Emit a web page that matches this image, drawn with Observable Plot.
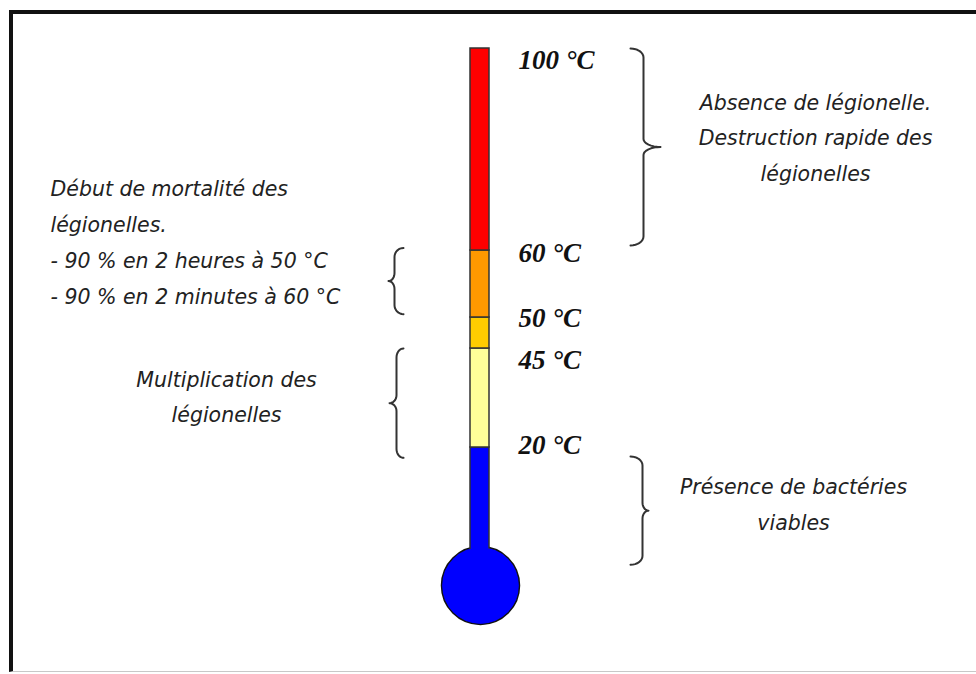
<!DOCTYPE html>
<html><head><meta charset="utf-8">
<script src="https://cdn.jsdelivr.net/npm/d3@7"></script>
<script src="https://cdn.jsdelivr.net/npm/@observablehq/plot@0.6"></script>
<style>
html,body{margin:0;padding:0;background:#fff;}
#wrap{position:relative;width:976px;height:674px;overflow:hidden;}
#wrap svg{position:absolute;left:0;top:0;}
#frame{position:absolute;left:9px;top:10px;width:990px;height:657px;border-top:4px solid #111;border-left:4px solid #111;border-bottom:1px solid #c8c8c8;pointer-events:none;}
</style></head><body>
<div id="wrap"><div id="frame"></div></div>
<script>
// ---------- DATA ----------
// thermometer segments (°C); the lowest stop 0 stands for the bulb
const segLow   = [0, 20, 45, 50, 60];
const segHigh  = [20, 45, 50, 60, 100];
const segColor = ["#0000ff", "#ffff99", "#ffcc00", "#ff9900", "#ff0000"];
// temperature labels
const tempLabels = [100, 60, 50, 45, 20];
// braces (temperature ranges they span)
const braceLow  = [61, 50.5, 18.5, 3];
const braceHigh = [100, 60.5, 45, 18.7];
// annotation texts
const notes = [
  "Absence de légionelle.\nDestruction rapide des\nlégionelles",
  "Début de mortalité des\nlégionelles.\n- 90 % en 2 heures à 50 °C\n- 90 % en 2 minutes à 60 °C",
  "Multiplication des\nlégionelles",
  "Présence de bactéries\nviables"
];

// ---------- LAYOUT ----------
const W = 976, H = 674;
// the drawing's temperature axis is not linear: piecewise warp
const scaleTemps  = [0, 20, 45, 50, 60, 100];
const scalePixels = [585, 447, 348, 317, 250, 48];
const tubeX1 = 470, tubeX2 = 489, bulbX = 480, bulbR = 39;
const labelX = 518, labelDy = [12, 3, 1, 12, -2];
// brace geometry: end x, spine x, tip x
const braceEnd   = [630, 403, 403, 630];
const braceSpine = [643, 394, 396, 642];
const braceTip   = [660, 388, 389, 648];
const noteX      = [815, 50, 226, 793];
const noteAnchor = ["middle", "start", "middle", "middle"];
const noteDy     = [-13, -42, -8, -10];

const warp = d3.scaleLinear().domain(scaleTemps).range(scalePixels);

function bracePoints(i) {
  const yTop = warp(braceHigh[i]), yBot = warp(braceLow[i]);
  const yMid = (yTop + yBot) / 2;
  const e = braceEnd[i], s = braceSpine[i], t = braceTip[i];
  const h = 9, k = 8, pts = [];
  const n = 8;
  for (let j = 0; j <= n; j++) { const a = j / n * Math.PI / 2; pts.push([e + (s - e) * Math.sin(a), yTop + h * (1 - Math.cos(a))]); }
  for (let j = 0; j <= n; j++) { const a = j / n * Math.PI / 2; pts.push([s + (t - s) * (1 - Math.cos(a)), yMid - k + k * Math.sin(a)]); }
  for (let j = 0; j <= n; j++) { const a = j / n * Math.PI / 2; pts.push([t + (s - t) * Math.sin(a), yMid + k * (1 - Math.cos(a))]); }
  for (let j = 0; j <= n; j++) { const a = j / n * Math.PI / 2; pts.push([s + (e - s) * (1 - Math.cos(a)), yBot - h + h * Math.sin(a)]); }
  return pts.map(([x, y]) => ({brace: i, x, t: warp.invert(y)}));
}
const braceData = braceLow.flatMap((_, i) => bracePoints(i));
const segs = segLow.map((_, i) => i);

const comic = "'DejaVu Sans', 'Open Sans', sans-serif";

const marks = [
  // bulb
  Plot.dot([0], {x: () => bulbX, y: d => d, r: bulbR, fill: "#0000ff", stroke: "#111", strokeWidth: 1.5}),
  // tube segments
  Plot.rect(segs, {x1: () => tubeX1, x2: () => tubeX2, y1: i => segLow[i], y2: i => segHigh[i],
    fill: i => segColor[i], stroke: "#333", strokeWidth: 1.5}),
  // hide tube outline inside the bulb
  Plot.dot([0], {x: () => bulbX, y: d => d, r: bulbR - 1, fill: "#0000ff"}),
  // braces
  Plot.line(braceData, {x: "x", y: "t", z: "brace", stroke: "#333", strokeWidth: 2}),
  // notes
  ...notes.map((txt, i) => Plot.text([i], {
    x: () => noteX[i], y: j => (braceLow[j] + braceHigh[j]) / 2, text: () => txt,
    textAnchor: noteAnchor[i], lineAnchor: "middle", lineHeight: 1.75, dy: noteDy[i],
    fontFamily: comic, fontStyle: "italic", fontSize: 20.5, fill: "#222"
  })),
  // temperature labels
  ...tempLabels.map((t, i) => Plot.text([t], {
    x: () => labelX, y: d => d, text: d => `${d} °C`, textAnchor: "start", lineAnchor: "middle",
    dy: labelDy[i], fontFamily: "'Liberation Serif', 'Times New Roman', serif",
    fontStyle: "italic", fontWeight: "bold", fontSize: 27, fill: "#111"
  }))
];

const chart = Plot.plot({
  width: W, height: H, margin: 0,
  style: {background: "transparent", overflow: "visible"},
  x: {domain: [0, W], range: [0, W], axis: null},
  y: {transform: warp, domain: [0, H], range: [0, H], axis: null},
  marks
});
document.getElementById("wrap").prepend(chart);
</script>
</body></html>
